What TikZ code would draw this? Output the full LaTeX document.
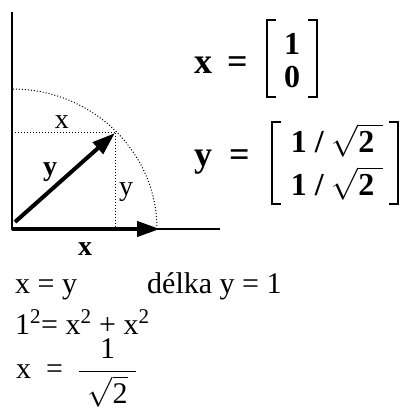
\documentclass[tikz,border=0pt]{standalone}
\usepackage{amsmath}
\usepackage{unicode-math}
\setmainfont{Liberation Serif}
\usetikzlibrary{arrows.meta,positioning}

\begin{document}
\begin{tikzpicture}[x=1pt, y=1pt,
    axis/.style={line width=2pt},
    vec/.style={-{Triangle[length=23pt, width=15pt]}, line width=4pt},
    guide/.style={line width=1pt, dash pattern=on 1pt off 2pt},
    lbl/.style={inner sep=0pt, font=\fontsize{28}{32}\selectfont},
    big/.style={inner sep=0pt, anchor=base west, font=\fontsize{36}{40}\selectfont\bfseries},
    entry/.style={inner sep=0pt, anchor=base, font=\fontsize{32}{36}\selectfont\bfseries},
    eqn/.style={inner sep=0pt, anchor=base west, font=\fontsize{30}{36}\selectfont},
    brk/.style={line width=2.5pt}
]
\useasboundingbox (0,0) rectangle (404,408);

% axes and unit circle
\coordinate (O) at (12,179);
\coordinate (top) at (12,396);
\coordinate (end) at (220,179);
\coordinate (ex) at (160,179);
\coordinate (arcs) at (157,179);
\coordinate (P) at (115,275);
\coordinate (ys) at (15,186);

\draw[axis] (top) -- (O) -- (end);
\draw[guide] (arcs) arc[start angle=0, end angle=90, x radius=145, y radius=140];
\draw[guide] (O |- P) -- (P);
\draw[guide] (P) -- (P |- O);
\draw[vec] (O) -- (ex);
\draw[vec] (ys) -- (P);

\node[lbl] (lx) at (62,286) {x};
\node[lbl, font=\fontsize{28}{32}\selectfont\bfseries] (ly) at (50,236) {y};
\node[lbl] (lyd) at (126,216) {y};
\node[lbl, font=\fontsize{28}{32}\selectfont\bfseries] (lxb) at (85,159) {x};

% vectors
\node[big] (vx) at (194,334) {x};
\node[big] (eqx) at (227,334) {=};
\node[entry] (x1) at (292,353) {1};
\node[entry] (x0) at (292,320) {0};
\draw[brk] (276,388) -- (267,388) -- (267,311) -- (276,311);
\draw[brk] (308,388) -- (317,388) -- (317,311) -- (308,311);

\node[big] (vy) at (194,241) {y};
\node[big] (eqy) at (229,241) {=};
\node[entry] (y1) at (337,255) {1 / $\sqrt{\textbf{2}\;}$};
\node[entry] (y2) at (337,212) {1 / $\sqrt{\textbf{2}\;}$};
\draw[brk] (281,286) -- (272,286) -- (272,204) -- (281,204);
\draw[brk] (389,286) -- (398,286) -- (398,204) -- (389,204);

% equations
\node[eqn] (r1a) at (15,114) {x = y};
\node[eqn] (r1b) at (147,114) {délka y = 1};
\node[eqn] (r2) at (15,74) {1\textsuperscript{2}= x\textsuperscript{2} + x\textsuperscript{2}};
\node[eqn] (r3) at (16,29) {x\enspace=\enspace$\dfrac{\text{1}}{\;\sqrt{\text{2}}\;}$};
\end{tikzpicture}
\end{document}
